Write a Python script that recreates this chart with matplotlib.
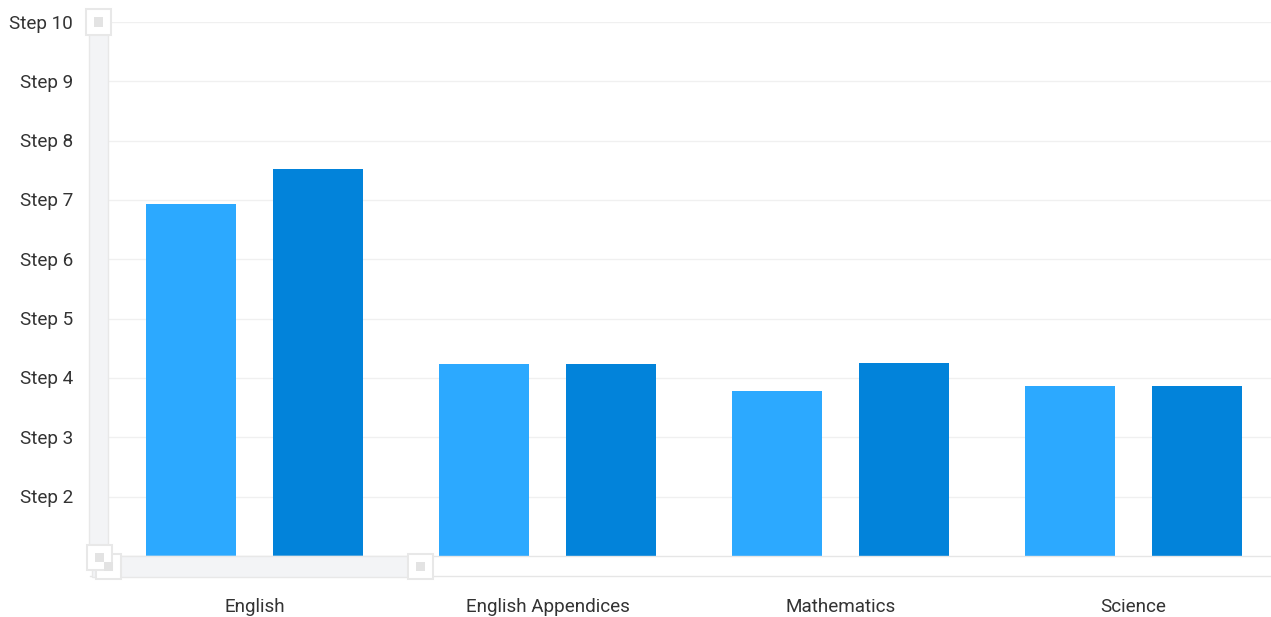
import matplotlib
matplotlib.use("Agg")
import matplotlib.pyplot as plt
from matplotlib.patches import Rectangle
import numpy as np

plt.rcParams['font.family'] = ['Roboto', 'DejaVu Sans']

categories = ["English", "English Appendices", "Mathematics", "Science"]
series_a = [6.93, 4.24, 3.78, 3.87]
series_b = [7.52, 4.24, 4.25, 3.87]
tick_values = [2, 3, 4, 5, 6, 7, 8, 9, 10]
tick_labels = ["Step " + str(v) for v in tick_values]

W, H = 1271, 617
fig = plt.figure(figsize=(W / 100, H / 100), dpi=100)

# plot area in pixels: left 108, right ~1280 (cut off), top 22, bottom 556
left, right, top, bottom = 108, 1280, 22, 556
ax = fig.add_axes([left / W, (H - bottom) / H, (right - left) / W, (bottom - top) / H])
ax.set_xlim(-0.5, 3.5)
ax.set_ylim(1, 10)

x = np.arange(len(categories))
off = 0.2167
bw = 0.304
ax.bar(x - off, np.array(series_a) - 1, bw, bottom=1, color="#2ca9ff", zorder=3)
ax.bar(x + off, np.array(series_b) - 1, bw, bottom=1, color="#0283da", zorder=3)

ax.set_yticks(tick_values)
ax.set_yticklabels([])
ax.grid(axis="y", color="#f0f0f0", linewidth=1)
ax.tick_params(length=0)
ax.set_xticks([])
for s in ax.spines.values():
    s.set_visible(False)
ax.axhline(1, color="#e6e6e6", linewidth=1, zorder=4, clip_on=False)

# y tick labels
for v, lab in zip(tick_values, tick_labels):
    ax.annotate(lab, xy=(0, v), xycoords=("axes fraction", "data"),
                xytext=(-35, -1.5), textcoords="offset pixels",
                ha="right", va="center", fontsize=13.6, color="#333333")
# category labels
for xi, lab in zip(x, categories):
    ax.annotate(lab, xy=(xi, 1), xycoords="data", xytext=(0, -51),
                textcoords="offset pixels", ha="center", va="center",
                fontsize=13.6, color="#333333", annotation_clip=False)


def px_rect(x0, y0, x1, y1, **kw):
    fig.patches.append(Rectangle((x0 / W, 1 - y1 / H), (x1 - x0) / W, (y1 - y0) / H,
                                 transform=fig.transFigure, figure=fig, **kw))


def handle(cx, cy):
    px_rect(cx - 12.5, cy - 12.5, cx + 12.5, cy + 12.5, facecolor="white", edgecolor="#e8e8e8", linewidth=1.5, zorder=6)
    px_rect(cx - 4.5, cy - 4.5, cx + 4.5, cy + 4.5, facecolor="#e3e3e3", edgecolor="none", zorder=7)


# bottom axis line
fig.add_artist(plt.Line2D([90 / W, 1], [1 - 576 / H] * 2, transform=fig.transFigure, color="#e6e6e6", linewidth=1))
# vertical scrollbar
px_rect(89, 30, 108, 560, facecolor="#f3f4f6", edgecolor="#e8e8e8", linewidth=1, zorder=5)
# horizontal scrollbar
px_rect(92, 556, 420, 577, facecolor="#f3f4f6", edgecolor="#e8e8e8", linewidth=1, zorder=5)
handle(108, 566)
handle(99, 557)
handle(420, 566)
handle(98, 22)

fig.savefig("out.png", dpi=100, facecolor="white")
